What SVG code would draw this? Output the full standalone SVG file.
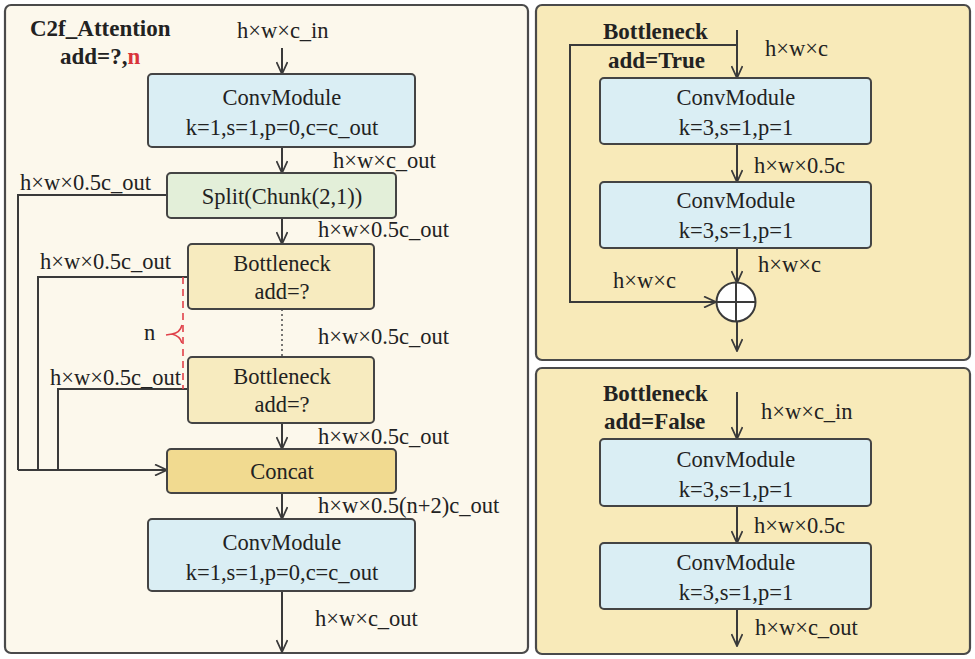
<svg xmlns="http://www.w3.org/2000/svg" width="975" height="659" viewBox="0 0 975 659" font-family="'Liberation Serif', 'Times New Roman', 'DejaVu Serif', serif">
<defs>
<marker id="arr" viewBox="0 0 14 12" refX="13" refY="6" markerWidth="14" markerHeight="12" orient="auto" markerUnits="userSpaceOnUse">
<path d="M1,0.5 L13,6 L1,11.5" fill="none" stroke="#3a3a3a" stroke-width="1.8"/>
</marker>
<style>
.panel{stroke:#4a4a4a;stroke-width:2.2}
.box{stroke:#444;stroke-width:2}
.conv{fill:#daeef4}
.split{fill:#e3efd9}
.bn{fill:#f7ebbf}
.cat{fill:#f1da90}
text{font-family:'Liberation Serif','Times New Roman','DejaVu Serif',serif;font-size:22.5px;fill:#222}
.c{text-anchor:middle}
.b{font-weight:bold;font-size:23px}
.ln{fill:none;stroke:#3a3a3a;stroke-width:2}
.a{marker-end:url(#arr)}
</style>
</defs>
<rect x="0" y="0" width="975" height="659" fill="#ffffff"/>
<g id="panel-left"><rect class="panel" x="5" y="5" width="523" height="648" rx="6" fill="#fcf8ec"/></g>
<g id="panel-right-top"><rect class="panel" x="536" y="5" width="434" height="355" rx="6" fill="#f8eab9"/></g>
<g id="panel-right-bottom"><rect class="panel" x="536" y="368" width="434" height="286" rx="6" fill="#f8eab9"/></g>

<g id="title-left">
<text class="b" x="30" y="36">C2f_Attention</text>
<text class="b" x="60" y="64">add=?,<tspan fill="#d9343b">n</tspan></text>
</g>

<g id="connectors">
<line class="ln a" x1="282" y1="48" x2="282" y2="74"/>
<line class="ln a" x1="282" y1="147" x2="282" y2="173"/>
<line class="ln a" x1="282" y1="218" x2="282" y2="244"/>
<line x1="282" y1="309" x2="282" y2="357" stroke="#555" stroke-width="1.6" stroke-dasharray="2,3"/>
<line class="ln a" x1="282" y1="423" x2="282" y2="449"/>
<line class="ln a" x1="282" y1="493" x2="282" y2="519"/>
<line class="ln a" x1="282" y1="591" x2="282" y2="652"/>
<polyline class="ln" points="167,195 18,195 18,470"/>
<polyline class="ln" points="188,277 38,277 38,470"/>
<polyline class="ln" points="188,389 58,389 58,470"/>
<line class="ln a" x1="18" y1="470" x2="167" y2="470"/>
<line x1="183" y1="277" x2="183" y2="389" stroke="#e0414a" stroke-width="1.6" stroke-dasharray="7,5"/>
<path d="M182,325 Q180,333 172,334 L166,335 M172,334 Q180,336 182,343" fill="none" stroke="#e0414a" stroke-width="1.6"/>

<line class="ln a" x1="737" y1="30" x2="737" y2="78"/>
<polyline class="ln a" points="737,45 570,45 570,302 716,302"/>
<line class="ln a" x1="737" y1="144" x2="737" y2="182"/>
<line class="ln a" x1="737" y1="248" x2="737" y2="283"/>
<line class="ln a" x1="737" y1="321" x2="737" y2="351"/>

<line class="ln a" x1="737" y1="392" x2="737" y2="439"/>
<line class="ln a" x1="737" y1="506" x2="737" y2="543"/>
<line class="ln a" x1="737" y1="609" x2="737" y2="646"/>
</g>

<g id="labels">
<text x="237" y="38">h×w×c_in</text>
<text x="333" y="168">h×w×c_out</text>
<text x="20" y="190">h×w×0.5c_out</text>
<text x="318" y="237">h×w×0.5c_out</text>
<text x="40" y="269">h×w×0.5c_out</text>
<text x="318" y="344">h×w×0.5c_out</text>
<text x="50" y="385">h×w×0.5c_out</text>
<text x="318" y="444">h×w×0.5c_out</text>
<text x="318" y="513">h×w×0.5(n+2)c_out</text>
<text x="315" y="626">h×w×c_out</text>
<text x="144" y="340" fill="#d9343b">n</text>
<text x="765" y="56">h×w×c</text>
<text x="754" y="173">h×w×0.5c</text>
<text x="758" y="272">h×w×c</text>
<text x="613" y="288">h×w×c</text>
<text x="761" y="419">h×w×c_in</text>
<text x="754" y="533">h×w×0.5c</text>
<text x="755" y="635">h×w×c_out</text>
</g>

<g id="conv1"><rect class="box conv" x="148" y="74" width="267" height="73" rx="4"/>
<text class="c" x="282" y="105">ConvModule</text><text class="c" x="282" y="135">k=1,s=1,p=0,c=c_out</text></g>
<g id="split"><rect class="box split" x="167" y="173" width="229" height="45" rx="4"/>
<text class="c" x="282" y="204">Split(Chunk(2,1))</text></g>
<g id="bottleneck1"><rect class="box bn" x="188" y="244" width="186" height="65" rx="4"/>
<text class="c" x="282" y="271">Bottleneck</text><text class="c" x="282" y="299">add=?</text></g>
<g id="bottleneck2"><rect class="box bn" x="188" y="357" width="186" height="66" rx="4"/>
<text class="c" x="282" y="384">Bottleneck</text><text class="c" x="282" y="412">add=?</text></g>
<g id="concat"><rect class="box cat" x="167" y="449" width="229" height="44" rx="4"/>
<text class="c" x="282" y="479">Concat</text></g>
<g id="conv2"><rect class="box conv" x="148" y="519" width="267" height="72" rx="4"/>
<text class="c" x="282" y="550">ConvModule</text><text class="c" x="282" y="580">k=1,s=1,p=0,c=c_out</text></g>

<g id="title-rt">
<text class="b" x="603" y="39">Bottleneck</text>
<text class="b" x="608" y="68">add=True</text>
</g>
<g id="rt-conv1"><rect class="box conv" x="600" y="78" width="271" height="66" rx="4"/>
<text class="c" x="736" y="105">ConvModule</text><text class="c" x="736" y="135">k=3,s=1,p=1</text></g>
<g id="rt-conv2"><rect class="box conv" x="600" y="182" width="271" height="66" rx="4"/>
<text class="c" x="736" y="208">ConvModule</text><text class="c" x="736" y="238">k=3,s=1,p=1</text></g>
<g id="rt-add"><circle cx="736" cy="302" r="19.5" fill="#ffffff" stroke="#3a3a3a" stroke-width="2"/>
<line class="ln" x1="716.5" y1="302" x2="755.5" y2="302"/><line class="ln" x1="736" y1="282.5" x2="736" y2="321.5"/></g>

<g id="title-rb">
<text class="b" x="603" y="401">Bottleneck</text>
<text class="b" x="604" y="429">add=False</text>
</g>
<g id="rb-conv1"><rect class="box conv" x="600" y="439" width="271" height="67" rx="4"/>
<text class="c" x="736" y="467">ConvModule</text><text class="c" x="736" y="497">k=3,s=1,p=1</text></g>
<g id="rb-conv2"><rect class="box conv" x="600" y="543" width="271" height="66" rx="4"/>
<text class="c" x="736" y="570">ConvModule</text><text class="c" x="736" y="600">k=3,s=1,p=1</text></g>
</svg>
